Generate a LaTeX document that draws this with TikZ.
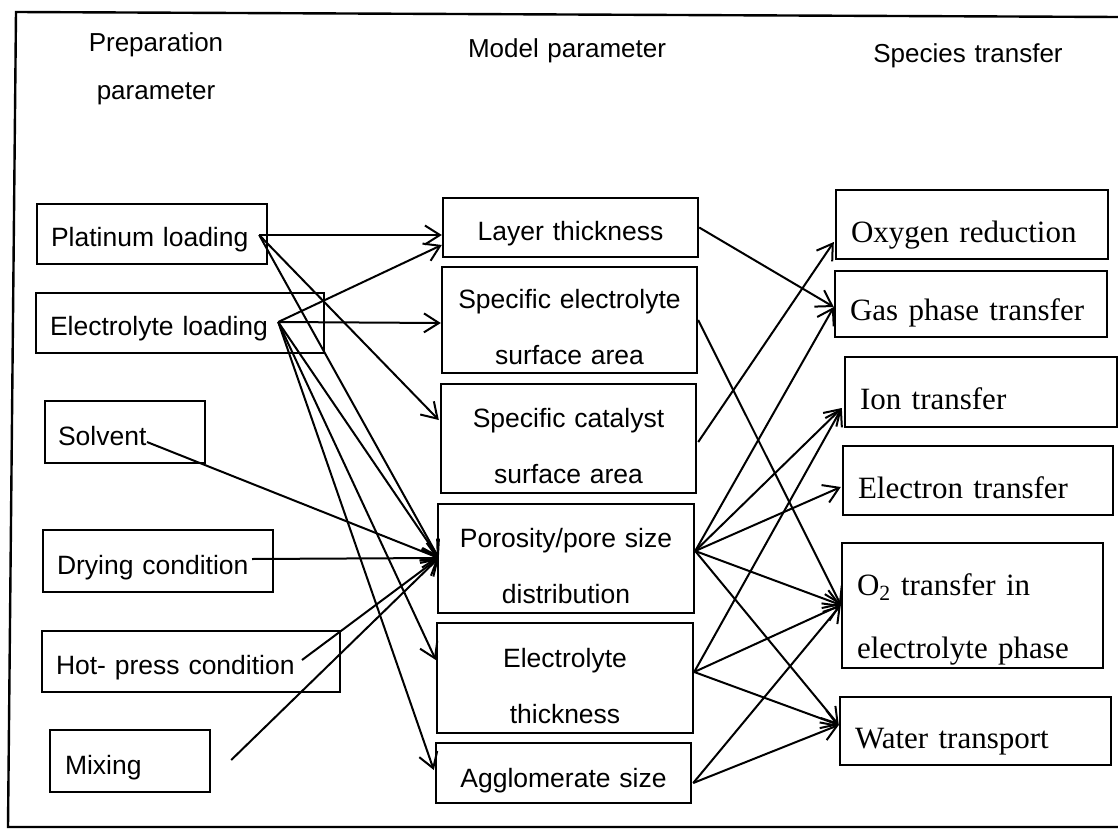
\documentclass[tikz,border=0pt]{standalone}
\usepackage{fontspec}
\setmainfont{Liberation Sans}
\newfontfamily\serifr{Liberation Serif}
\usetikzlibrary{arrows.meta,calc}
\begin{document}
\begin{tikzpicture}[x=1pt,y=-1pt,
  box/.style={draw, line width=2.4pt, rectangle, inner ysep=0pt, font=\fontsize{26.5}{56}\selectfont},
  lbox/.style={box, align=left, inner xsep=14pt},
  mbox/.style={box, align=center, inner xsep=10pt},
  rbox/.style={box, align=left, inner xsep=15pt, font=\serifr\fontsize{31}{63}\selectfont},
  hdr/.style={font=\fontsize{26}{48}\selectfont, align=center, text width=220pt, anchor=base, inner sep=0pt},
  arr/.style={line width=2pt, -{Straight Barb[length=15pt,width=19pt]}},
  frame/.style={line width=2.4pt}
]
\path[use as bounding box, fill=white] (0,0) rectangle (1118,832);
\draw[frame] (1118,17) -- (16,12) -- (8,827) -- (1118,827);

% headers
\node[hdr] (hprep) at (156,52) {Preparation\\parameter};
\node[hdr] (hmod) at (567,58) {Model parameter};
\node[hdr] (hspe) at (968,63) {Species transfer};

% left column
\node[lbox, text width=202pt, minimum height=60pt, text height=24pt, text depth=0pt] (pt) at (152,234) {Platinum loading};
\node[lbox, text width=260pt, minimum height=60pt, text height=24pt, text depth=0pt] (el) at (180,323) {Electrolyte loading};
\node[lbox, inner xsep=13pt, text width=134pt, minimum height=62pt, text height=26pt, text depth=0pt] (solv) at (125,432) {Solvent};
\node[lbox, text width=202pt, minimum height=62pt, text height=26pt, text depth=0pt] (dry) at (158,561) {Drying condition};
\node[lbox, text width=270pt, minimum height=61pt, text height=25pt, text depth=0pt] (hot) at (191,661.5) {Hot- press condition};
\node[lbox, inner xsep=15pt, text width=130pt, minimum height=62pt, text height=26pt, text depth=0pt] (mix) at (130,761) {Mixing};

% middle column
\node[mbox, text width=235pt, minimum height=59pt, text height=25pt, text depth=0pt] (layer) at (570.5,227.5) {Layer thickness};
\node[mbox, text width=235pt, minimum height=106pt, text height=0pt, text depth=24pt] (selec) at (569.5,320) {Specific electrolyte\\surface area};
\node[mbox, text width=235pt, minimum height=109pt, text height=0pt, text depth=23pt] (scat) at (568.5,438.5) {Specific catalyst\\surface area};
\node[mbox, text width=236pt, minimum height=109pt, text height=0pt, text depth=23pt] (por) at (566,558.5) {Porosity/pore size\\distribution};
\node[mbox, text width=236pt, minimum height=110pt, text height=0pt, text depth=22pt] (ethk) at (565,678) {Electrolyte\\thickness};
\node[mbox, text width=235pt, minimum height=60pt, text height=28pt, text depth=0pt] (agg) at (563.5,773) {Agglomerate size};

% right column
\node[rbox, text width=242pt, minimum height=69pt, text height=35pt, text depth=0pt] (oxy) at (972,224.5) {Oxygen reduction};
\node[rbox, text width=242pt, minimum height=66pt, text height=32pt, text depth=0pt] (gas) at (971,304) {Gas phase transfer};
\node[rbox, text width=242pt, minimum height=70pt, text height=34pt, text depth=0pt] (ion) at (981,392) {Ion transfer};
\node[rbox, text width=240pt, minimum height=69pt, text height=35pt, text depth=0pt] (elec) at (978,480.5) {Electron transfer};
\node[rbox, text width=231pt, minimum height=125pt, text height=0pt, text depth=21pt] (o2) at (972.5,605.5) {O\textsubscript{2} transfer in\\electrolyte phase};
\node[rbox, text width=241pt, minimum height=68pt, text height=34pt, text depth=0pt] (water) at (975.5,731) {Water transport};

% connector end points
\coordinate (ptO) at ($(pt.east)+(-9,1)$);
\coordinate (elO) at ($(el.east)+(-47,-1)$);
\coordinate (solvO) at ($(solv.center)+(22,10)$);
\coordinate (dryO) at ($(dry.center)+(94,-2)$);
\coordinate (hotO) at ($(hot.center)+(111,-1.5)$);
\coordinate (mixO) at ($(mix.east)+(20,-1)$);

\coordinate (layerA) at ($(layer.west)+(0,7.5)$);
\coordinate (layerB) at ($(layer.west)+(0,17.5)$);
\coordinate (selecI) at ($(selec.west)+(0,3)$);
\coordinate (scatI) at ($(scat.west)+(-1,-18.5)$);
\coordinate (porI) at ($(por.west)+(2,-0.5)$);
\coordinate (ethkI) at ($(ethk.west)+(0,-18)$);
\coordinate (aggI) at ($(agg.west)+(-1,-3)$);

\coordinate (layerO) at (layer.east);
\coordinate (selecO) at (selec.east);
\coordinate (scatO) at ($(scat.east)+(1,3.5)$);
\coordinate (porO) at ($(por.east)+(0,-7.5)$);
\coordinate (ethkO) at ($(ethk.east)+(0,-6)$);
\coordinate (aggO) at ($(agg.east)+(1,10)$);

\coordinate (oxyI) at ($(oxy.west)+(-1,17.5)$);
\coordinate (gasI) at ($(gas.west)+(0,3)$);
\coordinate (ionI) at ($(ion.west)+(-2,16)$);
\coordinate (elecI) at ($(elec.west)+(-1,6.5)$);
\coordinate (o2I) at ($(o2.west)+(0,-0.5)$);
\coordinate (waterI) at ($(water.west)+(0,-6)$);

% left -> middle
\draw[arr] (ptO) -- (layerA);
\draw[arr] (ptO) -- (scatI);
\draw[arr] (ptO) -- (porI);
\draw[arr] (elO) -- (layerB);
\draw[arr] (elO) -- (selecI);
\draw[arr] (elO) -- (porI);
\draw[arr] (elO) -- (ethkI);
\draw[arr] (elO) -- (aggI);
\draw[arr] (solvO) -- (porI);
\draw[arr] (dryO) -- (porI);
\draw[arr] (hotO) -- (porI);
\draw[arr] (mixO) -- (porI);

% middle -> right
\draw[arr] (layerO) -- (gasI);
\draw[arr] (selecO) -- (o2I);
\draw[arr] (scatO) -- (oxyI);
\draw[arr] (porO) -- (gasI);
\draw[arr] (porO) -- (ionI);
\draw[arr] (porO) -- (elecI);
\draw[arr] (porO) -- (o2I);
\draw[arr] (porO) -- (waterI);
\draw[arr] (ethkO) -- (ionI);
\draw[arr] (ethkO) -- (o2I);
\draw[arr] (ethkO) -- (waterI);
\draw[arr] (aggO) -- (o2I);
\draw[arr] (aggO) -- (waterI);
\end{tikzpicture}
\end{document}
